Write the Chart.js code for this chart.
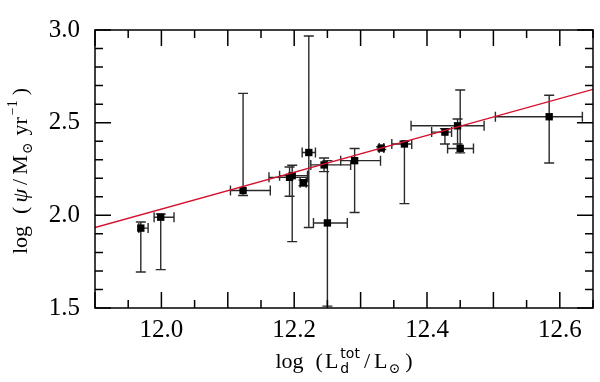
<!DOCTYPE html>
<html lang="en">
<head>
    <meta charset="UTF-8">
    <title>SFR vs dust luminosity</title>
    <style>
        body { margin: 0; background: #fff; }
        #wrap { width: 600px; height: 382px; }
    </style>
</head>
<body>
<div id="wrap"><canvas id="sfrChart" width="600" height="382"></canvas></div>

<script src="https://cdn.jsdelivr.net/npm/chart.js"></script>
<script>
    // measured points, log L_d^tot and log psi
    const xVals = [11.969, 11.999, 12.123, 12.193, 12.197, 12.214, 12.222, 12.245, 12.250, 12.291, 12.331, 12.366, 12.427, 12.446, 12.450, 12.584];
    const yVals = [1.931, 1.990, 2.134, 2.205, 2.214, 2.176, 2.339, 2.272, 1.959, 2.295, 2.363, 2.385, 2.449, 2.483, 2.361, 2.532];
    // error bar ends
    const xLo = [11.966, 11.989, 12.104, 12.162, 12.178, 12.209, 12.212, 12.225, 12.229, 12.270, 12.328, 12.347, 12.407, 12.376, 12.431, 12.503];
    const xHi = [11.980, 12.019, 12.164, 12.220, 12.220, 12.218, 12.232, 12.285, 12.280, 12.330, 12.335, 12.377, 12.437, 12.486, 12.470, 12.634];
    const yLo = [1.694, 1.707, 2.107, 2.103, 1.858, 2.160, 1.934, 2.236, 1.510, 2.015, 2.355, 2.063, 2.385, 2.385, 2.337, 2.282];
    const yHi = [1.964, 2.007, 2.658, 2.261, 2.270, 2.190, 2.968, 2.309, 2.295, 2.361, 2.370, 2.400, 2.468, 2.520, 2.676, 2.648];
    // fitted relation
    const fitX = [11.9, 12.65];
    const fitY = [1.934, 2.680];
    // labelled ticks
    const xTickLabels = [12.0, 12.2, 12.4, 12.6];
    const yTickLabels = [1.5, 2.0, 2.5, 3.0];

    const serif = '"Liberation Serif", "DejaVu Serif", serif';
    const near = (a, b) => Math.abs(a - b) < 1e-6;

    const errorBars = {
        id: 'errorBars',
        beforeDatasetsDraw(chart) {
            const ctx = chart.ctx, xs = chart.scales.x, ys = chart.scales.y;
            const cap = 5;
            ctx.save();
            ctx.strokeStyle = '#2a2a2a';
            ctx.lineWidth = 1.4;
            ctx.beginPath();
            xVals.forEach((xv, i) => {
                const px = xs.getPixelForValue(xv), py = ys.getPixelForValue(yVals[i]);
                const x0 = xs.getPixelForValue(xLo[i]), x1 = xs.getPixelForValue(xHi[i]);
                const y0 = ys.getPixelForValue(yLo[i]), y1 = ys.getPixelForValue(yHi[i]);
                ctx.moveTo(x0, py); ctx.lineTo(x1, py);
                ctx.moveTo(x0, py - cap); ctx.lineTo(x0, py + cap);
                ctx.moveTo(x1, py - cap); ctx.lineTo(x1, py + cap);
                ctx.moveTo(px, y0); ctx.lineTo(px, y1);
                ctx.moveTo(px - cap, y0); ctx.lineTo(px + cap, y0);
                ctx.moveTo(px - cap, y1); ctx.lineTo(px + cap, y1);
            });
            ctx.stroke();
            ctx.restore();
        }
    };

    // box frame with inward ticks on all sides
    const frame = {
        id: 'frame',
        afterDraw(chart) {
            const ctx = chart.ctx, a = chart.chartArea;
            const xs = chart.scales.x, ys = chart.scales.y;
            ctx.save();
            ctx.strokeStyle = '#000';
            ctx.lineWidth = 1.5;
            ctx.strokeRect(a.left, a.top, a.right - a.left, a.bottom - a.top);
            ctx.beginPath();
            xs.ticks.forEach(t => {
                const px = xs.getPixelForValue(t.value);
                const len = near(t.value * 10, Math.round(t.value * 10)) ? 16 : 8;
                ctx.moveTo(px, a.bottom); ctx.lineTo(px, a.bottom - len);
                ctx.moveTo(px, a.top); ctx.lineTo(px, a.top + len);
            });
            ys.ticks.forEach(t => {
                const py = ys.getPixelForValue(t.value);
                const len = near(t.value * 2, Math.round(t.value * 2)) ? 16 : 8;
                ctx.moveTo(a.left, py); ctx.lineTo(a.left + len, py);
                ctx.moveTo(a.right, py); ctx.lineTo(a.right - len, py);
            });
            ctx.stroke();
            ctx.restore();
        }
    };

    // axis titles with sub/superscripts
    function partWidth(ctx, p) {
        ctx.font = p.font;
        const w = p.stack
            ? Math.max(ctx.measureText(p.sup).width, ctx.measureText(p.sub).width)
            : ctx.measureText(p.t).width;
        return w + (p.gap || 0);
    }
    function drawParts(ctx, parts, cx, baseY) {
        let total = 0;
        parts.forEach(p => total += partWidth(ctx, p));
        let x = cx - total / 2;
        ctx.textBaseline = 'alphabetic';
        ctx.textAlign = 'left';
        parts.forEach(p => {
            ctx.font = p.font;
            if (p.stack) {
                ctx.fillText(p.sup, x, baseY - 10);
                ctx.fillText(p.sub, x, baseY + 5);
            } else {
                ctx.fillText(p.t, x, baseY + (p.dy || 0));
            }
            x += partWidth(ctx, p);
        });
    }
    const titles = {
        id: 'titles',
        afterDraw(chart) {
            const ctx = chart.ctx, a = chart.chartArea;
            const big = '22px ' + serif, small = '14px ' + serif, sans = '14px "DejaVu Sans", sans-serif';
            ctx.save();
            ctx.fillStyle = '#000';
            drawParts(ctx, [
                { t: 'log', font: big, gap: 12 },
                { t: '(', font: big, gap: 2 },
                { t: 'L', font: big, gap: 2 },
                { stack: true, sup: 'tot', sub: 'd', font: sans, gap: 4 },
                { t: '/', font: big, gap: 4 },
                { t: 'L', font: big, gap: 1 },
                { t: '\u2299', font: small, dy: 5, gap: 5 },
                { t: ')', font: big }
            ], (a.left + a.right) / 2, 368);
            ctx.translate(27, (a.top + a.bottom) / 2 + 2);
            ctx.rotate(-Math.PI / 2);
            drawParts(ctx, [
                { t: 'log', font: big, gap: 12 },
                { t: '(', font: big, gap: 4 },
                { t: '\u03c8', font: 'italic 22px ' + serif, gap: 4 },
                { t: '/', font: big, gap: 4 },
                { t: 'M', font: big, gap: 1 },
                { t: '\u2299', font: small, dy: 5, gap: 7 },
                { t: 'yr', font: big, gap: 2 },
                { t: '\u22121', font: small, dy: -10, gap: 5 },
                { t: ')', font: big }
            ], 0, 0);
            ctx.restore();
        }
    };

    const ctx = document.getElementById('sfrChart').getContext('2d');
    new Chart(ctx, {
        type: 'scatter',
        data: {
            datasets: [{
                label: 'fit',
                type: 'line',
                data: fitX.map((x, i) => ({ x: x, y: fitY[i] })),
                borderColor: '#d4122e',
                borderWidth: 1.4,
                pointRadius: 0,
                fill: false
            }, {
                label: 'galaxies',
                data: xVals.map((x, i) => ({ x: x, y: yVals[i] })),
                pointStyle: 'rect',
                pointRadius: 5.2,
                backgroundColor: '#000',
                borderWidth: 0
            }]
        },
        options: {
            responsive: false,
            animation: false,
            devicePixelRatio: 1,
            layout: { padding: { left: 0, right: 5, top: 13, bottom: 0 } },
            plugins: { legend: { display: false }, tooltip: { enabled: false } },
            scales: {
                x: {
                    type: 'linear',
                    min: 11.9,
                    max: 12.65,
                    grid: { display: false, drawTicks: false },
                    border: { display: false },
                    ticks: {
                        stepSize: 0.05,
                        autoSkip: false,
                        maxRotation: 0,
                        padding: 7,
                        color: '#000',
                        font: { family: serif, size: 25 },
                        callback: v => {
                            const hit = xTickLabels.find(l => near(l, v));
                            return hit !== undefined ? hit.toFixed(1) : '';
                        }
                    },
                    afterFit: s => { s.height = 74; }
                },
                y: {
                    type: 'linear',
                    min: 1.5,
                    max: 3.0,
                    grid: { display: false, drawTicks: false },
                    border: { display: false },
                    ticks: {
                        stepSize: 0.1,
                        autoSkip: false,
                        padding: 15,
                        color: '#000',
                        font: { family: serif, size: 25 },
                        callback: v => {
                            const hit = yTickLabels.find(l => near(l, v));
                            return hit !== undefined ? hit.toFixed(1) : '';
                        }
                    },
                    afterFit: s => { s.width = 95; }
                }
            }
        },
        plugins: [errorBars, frame, titles]
    });
</script>
</body>
</html>
